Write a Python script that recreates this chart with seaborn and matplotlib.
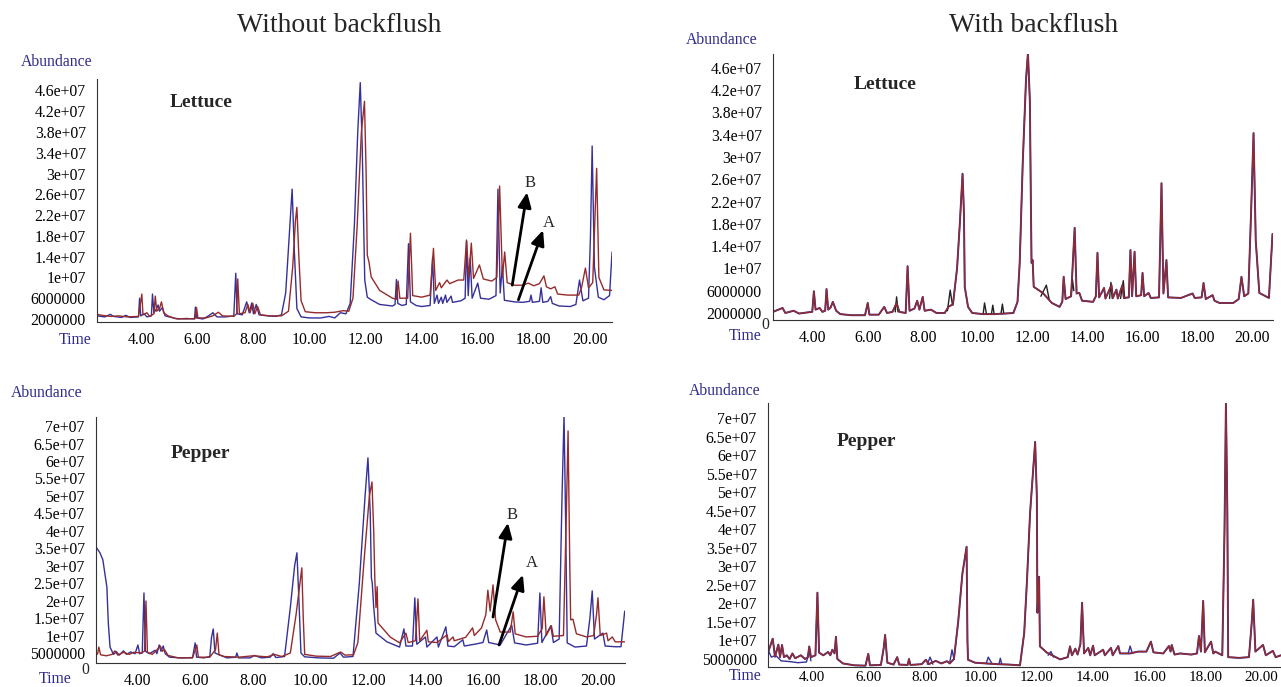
import pandas as pd
import matplotlib
matplotlib.use("Agg")
import matplotlib.pyplot as plt
from matplotlib.ticker import AutoMinorLocator, MultipleLocator
import seaborn as sns

# ---- data: (time [min], abundance [x1e6]) ----
time_ticks = [4, 6, 8, 10, 12, 14, 16, 18, 20]
time_labels = ["4.00", "6.00", "8.00", "10.00", "12.00", "14.00", "16.00", "18.00", "20.00"]

lettuce_yticks = [2, 6, 10, 14, 18, 22, 26, 30, 34, 38, 42, 46]
lettuce_ylabels = ["2000000", "6000000", "1e+07", "1.4e+07", "1.8e+07", "2.2e+07",
                   "2.6e+07", "3e+07", "3.4e+07", "3.8e+07", "4.2e+07", "4.6e+07"]
pepper_yticks = [5, 10, 15, 20, 25, 30, 35, 40, 45, 50, 55, 60, 65, 70]
pepper_ylabels = ["5000000", "1e+07", "1.5e+07", "2e+07", "2.5e+07", "3e+07", "3.5e+07",
                  "4e+07", "4.5e+07", "5e+07", "5.5e+07", "6e+07", "6.5e+07", "7e+07"]

# lettuce, without backflush
tl_blue = [(2.42, 2.6), (2.7, 2.4), (2.9, 2.9), (3.0, 2.5), (3.3, 2.3), (3.45, 2.7), (3.6, 2.3),
           (3.9, 2.4), (3.94, 6.0), (3.98, 2.6), (4.1, 3.0), (4.2, 2.4), (4.36, 2.6), (4.4, 6.8),
           (4.45, 3.2), (4.55, 4.0), (4.6, 4.7), (4.65, 3.5), (4.75, 4.2), (4.85, 2.6), (5.0, 2.4),
           (5.3, 2.0), (5.6, 2.1), (5.9, 2.0), (5.93, 4.3), (5.97, 2.2), (6.2, 2.0), (6.4, 2.6),
           (6.55, 3.2), (6.7, 2.4), (7.0, 2.4), (7.3, 2.6), (7.37, 10.8), (7.42, 3.0), (7.6, 2.8),
           (7.76, 5.3), (7.85, 3.2), (7.94, 5.1), (8.0, 3.0), (8.1, 4.8), (8.2, 2.8), (8.5, 2.6),
           (8.8, 2.5), (9.0, 2.8), (9.15, 7.0), (9.3, 20.0), (9.38, 27.0), (9.46, 15.0), (9.55, 4.0),
           (9.7, 2.4), (10.0, 2.2), (10.4, 2.2), (10.7, 2.5), (10.9, 2.2), (11.1, 3.2), (11.3, 3.0),
           (11.45, 5.0), (11.6, 20.0), (11.72, 38.0), (11.81, 47.5), (11.88, 35.0), (11.95, 15.0),
           (11.97, 9.5), (12.06, 6.2), (12.2, 5.7), (12.5, 4.8), (12.96, 4.5), (13.05, 4.8),
           (13.1, 9.6), (13.15, 5.0), (13.3, 4.6), (13.45, 4.8), (13.53, 16.5), (13.6, 5.3),
           (13.8, 4.6), (14.0, 4.4), (14.3, 4.6), (14.39, 13.9), (14.45, 5.0), (14.55, 6.6),
           (14.6, 5.0), (14.7, 6.2), (14.75, 5.0), (14.85, 6.6), (14.9, 5.2), (15.05, 6.4),
           (15.1, 5.2), (15.4, 5.5), (15.55, 6.0), (15.6, 17.0), (15.66, 6.5), (15.73, 13.7),
           (15.8, 6.0), (16.0, 8.9), (16.1, 6.0), (16.4, 5.8), (16.65, 6.5), (16.72, 27.0),
           (16.8, 7.0), (16.88, 12.2), (16.95, 5.6), (17.3, 5.3), (17.6, 5.2), (17.85, 5.4),
           (17.9, 6.6), (17.95, 5.2), (18.2, 5.4), (18.26, 8.0), (18.32, 5.2), (18.5, 5.4),
           (18.6, 6.3), (18.66, 5.0), (18.9, 4.5), (19.3, 4.4), (19.5, 4.8), (19.63, 9.5),
           (19.75, 5.5), (19.95, 6.0), (20.02, 18.0), (20.08, 35.3), (20.16, 12.0), (20.3, 6.2),
           (20.5, 5.7), (20.7, 6.5), (20.79, 14.9)]
tl_red = [(2.42, 2.9), (2.6, 2.7), (2.9, 2.5), (3.2, 2.6), (3.5, 2.4), (3.9, 2.5), (4.02, 6.8),
          (4.06, 2.8), (4.2, 3.2), (4.3, 2.5), (4.45, 3.0), (4.5, 6.4), (4.55, 3.5), (4.65, 4.0),
          (4.72, 5.3), (4.8, 3.2), (4.95, 2.6), (5.2, 2.1), (5.6, 2.0), (5.92, 2.1), (5.97, 4.2),
          (6.02, 2.2), (6.3, 2.2), (6.55, 2.6), (6.75, 3.3), (6.9, 2.6), (7.3, 2.5), (7.4, 3.0),
          (7.44, 9.7), (7.5, 3.0), (7.7, 3.2), (7.8, 4.8), (7.88, 3.2), (7.98, 5.0), (8.05, 3.0),
          (8.15, 4.4), (8.25, 2.8), (8.6, 2.6), (9.0, 2.6), (9.25, 3.5), (9.4, 12.0), (9.5, 21.0),
          (9.55, 23.5), (9.62, 14.0), (9.7, 5.5), (9.85, 3.4), (10.2, 3.2), (10.6, 3.2),
          (10.9, 3.3), (11.2, 3.6), (11.4, 3.5), (11.55, 6.0), (11.7, 20.0), (11.85, 38.0),
          (11.96, 43.9), (12.02, 30.0), (12.06, 14.3), (12.12, 13.0), (12.2, 10.1), (12.5, 7.5),
          (12.96, 6.0), (13.1, 5.8), (13.16, 9.3), (13.22, 6.0), (13.5, 6.0), (13.6, 18.5),
          (13.68, 6.5), (14.0, 6.2), (14.3, 6.6), (14.42, 15.6), (14.5, 7.5), (14.64, 9.0),
          (14.7, 8.0), (14.9, 9.5), (15.0, 8.8), (15.3, 9.5), (15.5, 9.5), (15.6, 17.2),
          (15.68, 10.0), (15.77, 16.6), (15.85, 9.8), (16.06, 12.4), (16.2, 9.7), (16.5, 9.3),
          (16.68, 10.0), (16.78, 27.6), (16.88, 10.0), (16.96, 14.9), (17.05, 9.0), (17.3, 8.5),
          (17.6, 8.5), (17.8, 8.9), (18.0, 8.4), (18.2, 8.8), (18.36, 10.3), (18.45, 8.2),
          (18.6, 7.8), (18.75, 8.2), (18.85, 6.8), (19.2, 6.6), (19.6, 6.6), (19.7, 8.0),
          (19.84, 11.8), (19.95, 8.0), (20.1, 9.0), (20.24, 31.0), (20.32, 10.0), (20.5, 7.6),
          (20.79, 7.5)]

# pepper, without backflush
bl_blue = [(2.54, 35.4), (2.68, 33.7), (2.78, 31.7), (2.92, 23.9), (2.97, 13.6), (3.03, 6.7),
           (3.15, 4.6), (3.25, 5.4), (3.35, 4.4), (3.5, 5.6), (3.6, 4.6), (3.75, 5.3), (3.9, 4.8),
           (4.0, 7.3), (4.06, 4.8), (4.15, 5.0), (4.21, 22.2), (4.26, 5.5), (4.4, 4.8), (4.6, 5.8),
           (4.66, 4.8), (4.74, 7.3), (4.8, 5.5), (4.88, 7.0), (4.95, 4.8), (5.1, 3.8), (5.5, 3.6),
           (5.9, 3.7), (5.99, 7.9), (6.04, 3.8), (6.3, 3.6), (6.5, 4.0), (6.56, 9.5), (6.62, 11.9),
           (6.68, 5.0), (6.85, 4.4), (7.1, 3.6), (7.4, 3.8), (7.44, 5.0), (7.5, 3.6), (7.9, 3.6),
           (8.05, 4.3), (8.3, 3.6), (8.6, 3.8), (8.7, 4.8), (8.8, 3.7), (9.1, 4.0), (9.3, 18.0),
           (9.45, 30.0), (9.53, 33.7), (9.6, 20.0), (9.67, 5.0), (9.8, 3.9), (10.3, 3.6),
           (10.8, 3.5), (11.03, 5.0), (11.15, 3.8), (11.48, 4.0), (11.7, 25.0), (11.9, 50.0),
           (12.0, 60.9), (12.08, 45.0), (12.12, 26.5), (12.15, 25.0), (12.2, 18.2), (12.28, 10.7),
           (12.66, 8.2), (13.1, 6.7), (13.25, 11.9), (13.32, 7.0), (13.55, 7.0), (13.63, 20.8),
           (13.7, 7.5), (14.0, 9.6), (14.05, 6.7), (14.4, 9.6), (14.45, 6.7), (14.71, 12.5),
           (14.78, 7.0), (15.0, 6.8), (15.3, 8.8), (15.35, 7.0), (15.7, 7.5), (16.0, 8.0),
           (16.13, 11.6), (16.2, 8.0), (16.6, 7.3), (17.0, 13.0), (17.1, 7.9), (17.5, 7.3),
           (17.9, 7.8), (17.98, 22.2), (18.05, 8.0), (18.36, 12.8), (18.45, 8.0), (18.65, 9.0),
           (18.75, 50.0), (18.82, 73.0), (18.88, 40.0), (18.93, 7.9), (19.2, 6.7), (19.6, 7.0),
           (19.72, 15.0), (19.8, 22.8), (19.88, 9.0), (20.17, 10.7), (20.25, 7.0), (20.6, 6.8),
           (20.8, 6.8), (20.93, 17.0)]
bl_red = [(2.54, 4.3), (2.6, 4.8), (2.64, 6.7), (2.7, 4.5), (2.9, 4.2), (3.1, 4.6), (3.2, 5.6),
          (3.3, 4.4), (3.5, 5.2), (3.7, 4.6), (3.85, 5.2), (4.1, 5.0), (4.23, 5.5), (4.28, 19.9),
          (4.33, 5.2), (4.5, 4.6), (4.65, 5.8), (4.78, 7.0), (4.85, 5.5), (4.92, 6.0), (5.05, 4.3),
          (5.4, 3.6), (5.9, 3.6), (6.05, 7.3), (6.1, 3.8), (6.5, 3.8), (6.7, 6.0), (6.76, 10.7),
          (6.82, 4.5), (7.0, 4.0), (7.5, 3.8), (8.0, 4.2), (8.5, 3.9), (8.75, 4.6), (9.0, 4.0),
          (9.3, 5.0), (9.5, 16.0), (9.65, 26.0), (9.7, 29.4), (9.75, 15.0), (9.8, 4.6),
          (10.2, 4.1), (10.7, 4.0), (11.05, 5.3), (11.2, 4.4), (11.5, 4.5), (11.65, 8.0),
          (11.85, 30.0), (12.05, 50.0), (12.14, 54.0), (12.2, 40.0), (12.24, 25.9), (12.28, 18.0),
          (12.32, 24.0), (12.35, 13.6), (12.77, 9.6), (13.1, 7.9), (13.32, 10.7), (13.4, 8.0),
          (13.65, 8.5), (13.74, 20.5), (13.8, 8.5), (14.05, 11.5), (14.1, 8.2), (14.4, 8.0),
          (14.75, 10.2), (14.8, 8.3), (14.96, 9.6), (15.0, 8.5), (15.4, 9.5), (15.64, 12.2),
          (15.7, 10.0), (15.95, 12.2), (16.1, 16.0), (16.17, 23.0), (16.25, 17.0), (16.35, 24.5),
          (16.44, 14.5), (16.6, 11.0), (16.95, 11.0), (17.05, 16.8), (17.12, 10.5), (17.5, 9.6),
          (17.9, 9.8), (18.06, 12.0), (18.12, 21.1), (18.2, 10.0), (18.38, 12.8), (18.45, 9.8),
          (18.8, 10.0), (18.9, 45.0), (18.96, 68.6), (19.02, 30.0), (19.05, 14.5), (19.13, 14.7),
          (19.25, 10.5), (19.6, 9.6), (19.85, 10.0), (19.95, 16.0), (20.0, 20.8), (20.08, 10.0),
          (20.3, 10.7), (20.35, 8.5), (20.5, 9.6), (20.6, 8.2), (20.93, 8.2)]

# lettuce, with backflush (traces overlay; red on top)
tr_red = [(2.55, 2.2), (2.75, 2.6), (2.9, 2.9), (3.0, 2.0), (3.3, 2.4), (3.5, 1.9), (3.8, 2.1),
          (3.98, 2.2), (4.04, 5.9), (4.1, 2.6), (4.25, 2.9), (4.35, 2.2), (4.45, 2.4), (4.5, 6.3),
          (4.56, 2.6), (4.65, 3.0), (4.73, 4.0), (4.85, 2.4), (5.0, 1.8), (5.4, 1.6), (5.9, 1.6),
          (6.0, 3.8), (6.06, 1.7), (6.4, 1.7), (6.6, 3.1), (6.7, 2.0), (6.9, 2.2), (7.05, 3.8),
          (7.15, 2.2), (7.38, 2.0), (7.45, 10.4), (7.52, 2.4), (7.7, 2.8), (7.8, 4.2), (7.88, 2.6),
          (8.0, 4.9), (8.07, 2.4), (8.3, 2.6), (8.5, 2.0), (8.8, 2.0), (8.95, 3.2), (9.1, 3.5),
          (9.25, 10.0), (9.35, 18.0), (9.45, 27.0), (9.5, 20.0), (9.53, 6.7), (9.65, 3.1),
          (9.8, 2.0), (10.2, 1.8), (10.6, 1.8), (11.0, 1.9), (11.3, 2.0), (11.45, 4.0),
          (11.53, 11.0), (11.64, 28.9), (11.76, 44.0), (11.83, 48.7), (11.9, 40.0), (11.93, 25.0),
          (11.96, 11.0), (12.0, 11.5), (12.04, 6.7), (12.37, 5.6), (12.7, 3.8), (12.98, 3.1),
          (13.08, 4.0), (13.13, 8.5), (13.2, 4.5), (13.4, 5.0), (13.53, 17.3), (13.6, 5.5),
          (13.7, 5.6), (13.8, 4.2), (14.2, 4.0), (14.3, 5.0), (14.36, 12.8), (14.42, 4.8),
          (14.6, 6.5), (14.65, 4.6), (14.87, 7.0), (14.92, 4.7), (15.05, 6.2), (15.1, 4.6),
          (15.27, 7.0), (15.32, 4.7), (15.5, 4.8), (15.56, 13.3), (15.62, 5.0), (15.71, 13.0),
          (15.77, 5.0), (15.95, 5.2), (16.0, 9.2), (16.06, 5.0), (16.22, 5.6), (16.3, 4.7),
          (16.6, 4.8), (16.69, 25.3), (16.76, 5.5), (16.87, 11.5), (16.93, 4.8), (17.4, 4.7),
          (17.82, 5.5), (17.9, 4.7), (18.15, 4.8), (18.22, 7.4), (18.3, 4.5), (18.55, 5.2),
          (18.62, 4.2), (18.8, 3.8), (19.3, 3.8), (19.5, 4.5), (19.6, 8.5), (19.7, 5.0),
          (19.85, 5.5), (19.95, 20.0), (20.04, 34.3), (20.12, 15.0), (20.25, 5.6), (20.6, 4.7),
          (20.73, 16.2)]
tr_black_bumps = [[(7.0, 2.2), (7.05, 4.9), (7.1, 2.2)],
                  [(8.9, 2.4), (9.0, 6.1), (9.08, 3.5)],
                  [(10.2, 1.8), (10.25, 3.8), (10.32, 1.8)],
                  [(10.5, 1.8), (10.55, 3.4), (10.6, 1.8)],
                  [(10.85, 1.9), (10.9, 3.6), (10.95, 1.9)],
                  [(12.3, 5.0), (12.5, 7.0), (12.6, 4.5)],
                  [(13.4, 5.0), (13.45, 8.0), (13.5, 6.0)],
                  [(14.8, 4.6), (14.85, 7.5), (14.9, 4.6)],
                  [(15.2, 4.6), (15.3, 7.8), (15.35, 4.6)]]

# pepper, with backflush
br_red = [(2.43, 6.7), (2.6, 10.5), (2.68, 5.6), (2.8, 8.9), (2.86, 5.5), (2.93, 8.8), (3.0, 5.5),
          (3.1, 6.0), (3.2, 5.0), (3.3, 6.5), (3.4, 5.2), (3.6, 6.0), (3.75, 5.0), (3.85, 5.5),
          (3.9, 8.4), (3.96, 5.5), (4.12, 6.0), (4.19, 22.9), (4.25, 6.7), (4.4, 6.0), (4.57, 6.9),
          (4.65, 6.0), (4.72, 7.5), (4.8, 6.5), (4.85, 11.0), (4.9, 5.0), (5.1, 3.8), (5.5, 3.3),
          (5.9, 3.2), (6.0, 6.4), (6.06, 3.3), (6.45, 3.4), (6.55, 8.0), (6.6, 11.5), (6.68, 4.0),
          (6.9, 3.5), (7.03, 5.5), (7.1, 3.5), (7.4, 3.4), (7.45, 5.0), (7.5, 3.4), (7.9, 3.6),
          (8.05, 4.8), (8.15, 3.6), (8.4, 4.5), (8.6, 3.8), (8.8, 4.4), (8.9, 3.8), (9.05, 5.0),
          (9.2, 15.0), (9.35, 28.0), (9.5, 35.3), (9.53, 10.0), (9.55, 4.8), (9.8, 4.0),
          (10.2, 3.8), (10.6, 3.6), (11.0, 3.5), (11.4, 3.3), (11.55, 12.0), (11.65, 26.4),
          (11.76, 44.5), (11.94, 63.6), (12.0, 48.8), (12.02, 17.5), (12.08, 27.2), (12.11, 8.4),
          (12.36, 6.7), (12.83, 4.9), (13.1, 5.5), (13.18, 8.4), (13.25, 6.0), (13.37, 7.8),
          (13.45, 6.2), (13.55, 9.0), (13.61, 20.2), (13.68, 6.5), (13.83, 8.0), (13.9, 6.0),
          (14.0, 8.6), (14.06, 6.0), (14.36, 7.5), (14.42, 6.0), (14.64, 8.0), (14.7, 6.0),
          (14.9, 8.5), (14.96, 6.5), (15.32, 6.5), (15.6, 7.0), (15.9, 7.0), (16.06, 9.7),
          (16.15, 6.8), (16.5, 6.5), (16.7, 8.5), (16.76, 7.0), (16.8, 8.8), (16.9, 6.2),
          (17.1, 6.5), (17.5, 6.2), (17.7, 6.5), (17.77, 11.2), (17.84, 7.0), (17.92, 20.7),
          (17.98, 6.8), (18.2, 9.7), (18.28, 6.5), (18.35, 7.0), (18.6, 6.0), (18.68, 40.0),
          (18.73, 74.0), (18.78, 45.0), (18.81, 5.5), (19.2, 5.3), (19.55, 5.5), (19.65, 15.0),
          (19.7, 21.0), (19.78, 7.0), (20.05, 8.8), (20.15, 6.0), (20.4, 7.2), (20.5, 5.5),
          (20.69, 6.0)]
br_blue_bumps = [[(2.43, 7.5), (2.55, 5.5), (2.7, 6.0), (2.9, 4.5), (3.2, 4.3), (3.5, 4.0),
                  (3.8, 4.2), (3.9, 7.0), (3.96, 4.5)],
                 [(8.1, 3.6), (8.2, 5.5), (8.3, 3.6)],
                 [(8.9, 4.0), (8.98, 7.5), (9.05, 5.0)],
                 [(10.2, 3.8), (10.27, 5.5), (10.4, 3.8)],
                 [(10.65, 3.6), (10.7, 5.2), (10.75, 3.6)],
                 [(12.4, 6.0), (12.5, 7.0), (12.6, 5.5)],
                 [(15.25, 6.5), (15.32, 8.5), (15.4, 6.5)]]

BLUE = "#36309a"
RED = "#962b2b"
LABEL_BLUE = "#2f2b8c"

sns.set_style("white")
plt.rcParams["font.family"] = ["Liberation Serif", "DejaVu Serif"]


def to_df(points):
    df = pd.DataFrame(points, columns=["time", "abundance"])
    df["abundance"] = df["abundance"] * 1e6
    return df


def segs_df(segments):
    frames = []
    for i, seg in enumerate(segments):
        d = to_df(seg)
        d["seg"] = i
        frames.append(d)
    return pd.concat(frames, ignore_index=True)


def trace(ax, points, color, lw=1.0):
    sns.lineplot(data=to_df(points), x="time", y="abundance", color=color, lw=lw,
                 sort=False, estimator=None, ax=ax, legend=False)


def bumps(ax, segments, color, lw=1.0):
    sns.lineplot(data=segs_df(segments), x="time", y="abundance", units="seg",
                 color=color, lw=lw, sort=False, estimator=None, ax=ax, legend=False)


def setup(ax, xlim, ylim, yticks, ylabels):
    ax.set_xlim(xlim)
    ax.set_ylim(ylim[0] * 1e6, ylim[1] * 1e6)
    ax.set_xticks(time_ticks)
    ax.set_xticklabels(time_labels)
    ax.xaxis.set_minor_locator(AutoMinorLocator(5))
    ax.set_yticks([v * 1e6 for v in yticks])
    ax.set_yticklabels(ylabels)
    ax.yaxis.set_minor_locator(MultipleLocator(1e6))
    ax.set_xlabel("")
    ax.set_ylabel("")
    for s in ["top", "right"]:
        ax.spines[s].set_visible(False)
    for s in ["left", "bottom"]:
        ax.spines[s].set_color("#333333")
        ax.spines[s].set_linewidth(0.8)
    ax.tick_params(axis="both", which="major", direction="out", length=4, width=0.7,
                   labelsize=11.3, colors="#222222", labelcolor="black")
    ax.tick_params(axis="x", which="major", pad=3)
    ax.tick_params(axis="y", which="major", pad=4)
    ax.tick_params(axis="both", which="minor", direction="out", length=2, width=0.5,
                   colors="#444444")
    ax.patch.set_alpha(0)


fig = plt.figure(figsize=(12.81, 6.87), dpi=100)

ax_tl = fig.add_axes([0.0757, 0.5313, 0.4021, 0.3537])
ax_tr = fig.add_axes([0.6034, 0.5342, 0.3904, 0.3872])
ax_bl = fig.add_axes([0.0749, 0.0349, 0.4130, 0.3581])
ax_br = fig.add_axes([0.5995, 0.0291, 0.4005, 0.3843])

# without backflush
trace(ax_tl, tl_blue, BLUE)
trace(ax_tl, tl_red, RED)
trace(ax_bl, bl_blue, BLUE)
trace(ax_bl, bl_red, RED)

# with backflush
trace(ax_tr, tr_red, BLUE, lw=1.4)
bumps(ax_tr, tr_black_bumps, "#222222")
trace(ax_tr, tr_red, RED)
trace(ax_br, br_red, BLUE, lw=1.4)
bumps(ax_br, br_blue_bumps, BLUE)
trace(ax_br, br_red, RED)

setup(ax_tl, (2.42, 20.79), (1.42, 48.2), lettuce_yticks, lettuce_ylabels)
setup(ax_tr, (2.55, 20.75), (0.74, 48.5), lettuce_yticks, lettuce_ylabels)
setup(ax_bl, (2.54, 20.94), (2.13, 72.6), pepper_yticks, pepper_ylabels)
setup(ax_br, (2.43, 20.69), (2.84, 74.1), pepper_yticks, pepper_ylabels)
# bottom-right time labels sit right at the lower edge; pull them up so they stay whole
ax_br.tick_params(axis="x", which="major", length=2, pad=1, labelsize=10.8)
ax_br.tick_params(axis="x", which="minor", length=1.5)

# arrows A / B
arrow_kw = dict(arrowstyle="-|>,head_length=0.9,head_width=0.4", lw=2.0, color="black",
                shrinkA=0, shrinkB=0)
for ax, b_tail, b_tip, b_lab, a_tail, a_tip, a_lab in [
        (ax_tl, (17.23, 8.5), (17.76, 26.4), (17.87, 28.1),
         (17.45, 5.7), (18.33, 19.1), (18.54, 20.5)),
        (ax_bl, (16.35, 15.3), (16.87, 42.3), (17.0, 44.6),
         (16.56, 7.3), (17.39, 27.4), (17.7, 30.8))]:
    ax.annotate("", xy=(b_tip[0], b_tip[1] * 1e6), xytext=(b_tail[0], b_tail[1] * 1e6),
                arrowprops=arrow_kw)
    ax.annotate("", xy=(a_tip[0], a_tip[1] * 1e6), xytext=(a_tail[0], a_tail[1] * 1e6),
                arrowprops=arrow_kw)
    ax.text(b_lab[0], b_lab[1] * 1e6, "B", fontsize=12, ha="center", va="center")
    ax.text(a_lab[0], a_lab[1] * 1e6, "A", fontsize=12, ha="center", va="center")

# titles and labels
fig.text(0.2646, 0.9636, "Without backflush", fontsize=20, ha="center", va="center")
fig.text(0.8072, 0.9636, "With backflush", fontsize=20, ha="center", va="center")

for x, y in [(0.0718, 0.9098), (0.5917, 0.9418), (0.0640, 0.4280), (0.5933, 0.4309)]:
    fig.text(x, y, "Abundance", fontsize=11.3, color=LABEL_BLUE, ha="right", va="center")
for x, y in [(0.0718, 0.5051), (0.5948, 0.5110), (0.0562, 0.0120), (0.5948, 0.0160)]:
    fig.text(x, y, "Time", fontsize=11.3, color=LABEL_BLUE, ha="right", va="center")
for x, y in [(0.5972, 0.5270), (0.0664, 0.0247)]:
    fig.text(x, y, "0", fontsize=11.3, ha="center", va="center")

fig.text(0.1569, 0.8515, "Lettuce", fontsize=14, fontweight="bold", ha="center", va="center")
fig.text(0.6909, 0.8777, "Lettuce", fontsize=14, fontweight="bold", ha="center", va="center")
fig.text(0.1561, 0.3406, "Pepper", fontsize=14, fontweight="bold", ha="center", va="center")
fig.text(0.6760, 0.3580, "Pepper", fontsize=14, fontweight="bold", ha="center", va="center")

fig.savefig("out.png", dpi=100)
